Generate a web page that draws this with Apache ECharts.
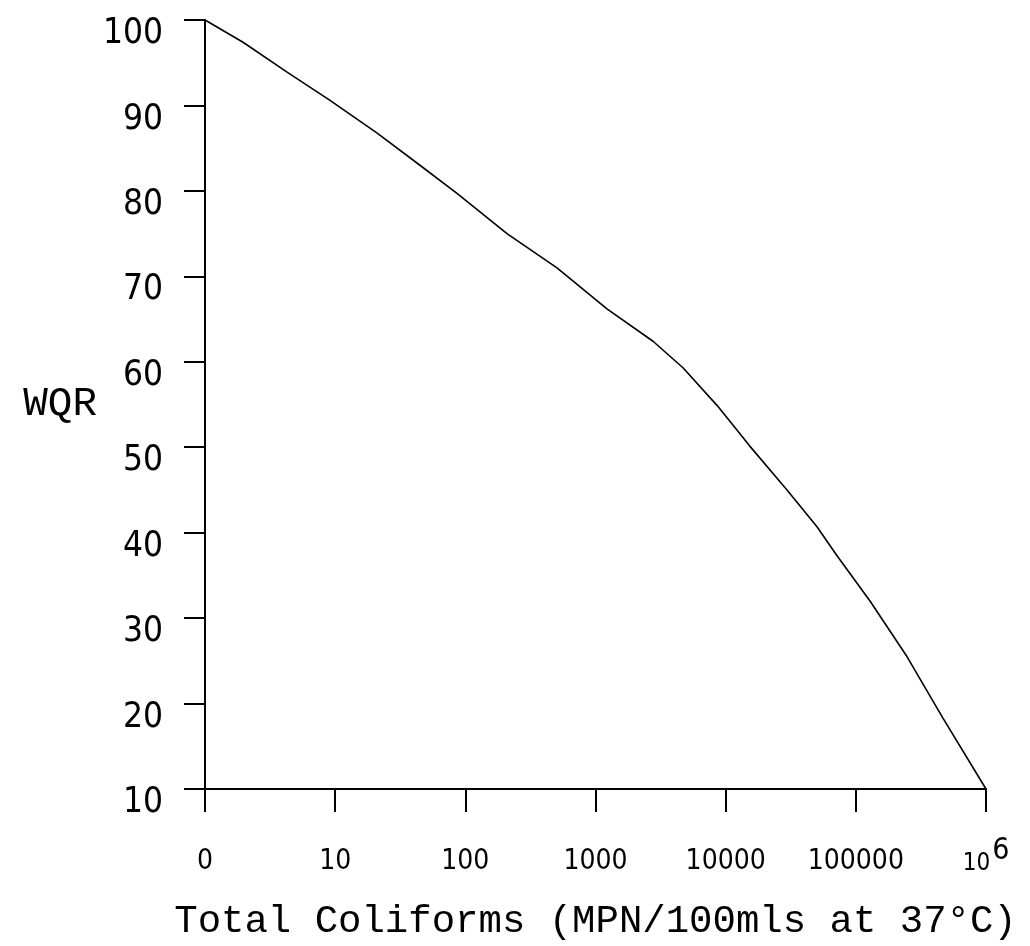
<!DOCTYPE html>
<html>
<head>
<meta charset="utf-8">
<title>WQR vs Total Coliforms</title>
<script src="https://cdn.jsdelivr.net/npm/echarts@6/dist/echarts.min.js"></script>
<style>
  html, body { margin: 0; padding: 0; background: #ffffff; }
  #chart { width: 1030px; height: 946px; }
</style>
</head>
<body>
<div id="chart"></div>
<script>
// Rating curve: total coliform count (MPN/100ml, log scale) against WQR
const coliforms = [1, 1.96, 4.27, 9.13, 20.9, 44.8, 86.3, 209, 506, 1225, 2766, 4700, 8580, 15380, 29600, 50300, 71700, 128500, 247000, 467000, 1000000];
const wqr       = [100, 97.4, 93.9, 90.6, 86.8, 83.0, 79.7, 75.0, 71.0, 66.2, 62.4, 59.3, 54.9, 50.1, 45.0, 40.7, 37.3, 32.0, 25.5, 18.3, 10];

// Labels for the decade ticks 1, 10, ..., 10^6
const xTickLabels = ['0', '10', '100', '1000', '10000', '100000', '{base|10}{sup|6}'];
const yTicks = { min: 10, max: 100, step: 10 };

const xTitle = 'Total Coliforms (MPN/100mls at 37\u00B0C)';
const yTitle = 'WQR';

const plotFont = "'Liberation Mono', 'DejaVu Sans Mono', monospace";
const numFont = "'DejaVu Sans Condensed', 'Liberation Sans', sans-serif";

const chart = echarts.init(document.getElementById('chart'), null, { renderer: 'canvas' });

chart.setOption({
  backgroundColor: '#ffffff',
  animation: false,
  grid: { left: 205, right: 44, top: 20, bottom: 141, containLabel: false },
  xAxis: {
    type: 'log',
    logBase: 10,
    min: 1,
    max: 1000000,
    splitNumber: 6,
    name: xTitle,
    nameLocation: 'middle',
    nameGap: 113,
    nameTextStyle: { fontFamily: plotFont, fontSize: 39, color: '#000' },
    axisLine: { show: true, lineStyle: { color: '#000', width: 2 } },
    axisTick: { show: true, inside: false, length: 23, lineStyle: { color: '#000', width: 2 } },
    minorTick: { show: false },
    splitLine: { show: false },
    axisLabel: {
      margin: 87,
      verticalAlign: 'bottom',
      color: '#000',
      fontFamily: numFont,
      fontSize: 28,
      formatter: function (v) {
        const i = Math.round(Math.log10(v));
        return xTickLabels[i] !== undefined ? xTickLabels[i] : '';
      },
      rich: {
        base: { fontFamily: numFont, fontSize: 24, color: '#000', verticalAlign: 'bottom' },
        sup: { fontFamily: numFont, fontSize: 30, color: '#000', verticalAlign: 'bottom', padding: [0, 0, 10, 2] }
      }
    }
  },
  yAxis: {
    type: 'value',
    min: yTicks.min,
    max: yTicks.max,
    interval: yTicks.step,
    name: yTitle,
    nameLocation: 'middle',
    nameRotate: 0,
    nameGap: 108,
    nameTextStyle: { fontFamily: plotFont, fontSize: 41, color: '#000', align: 'right', padding: [0, 0, 20, 0] },
    axisLine: { show: true, lineStyle: { color: '#000', width: 2 } },
    axisTick: { show: true, inside: false, length: 21, lineStyle: { color: '#000', width: 2 } },
    splitLine: { show: false },
    axisLabel: {
      margin: 42,
      color: '#000',
      formatter: function (v) { return '{v|' + v + '}'; },
      rich: {
        v: { fontFamily: numFont, fontSize: 35, color: '#000', padding: [28, 0, 0, 0] }
      }
    }
  },
  series: [{
    type: 'line',
    data: coliforms.map((c, i) => [c, wqr[i]]),
    showSymbol: false,
    smooth: false,
    lineStyle: { color: '#000', width: 1.6 },
    clip: false
  }]
});
</script>
</body>
</html>
